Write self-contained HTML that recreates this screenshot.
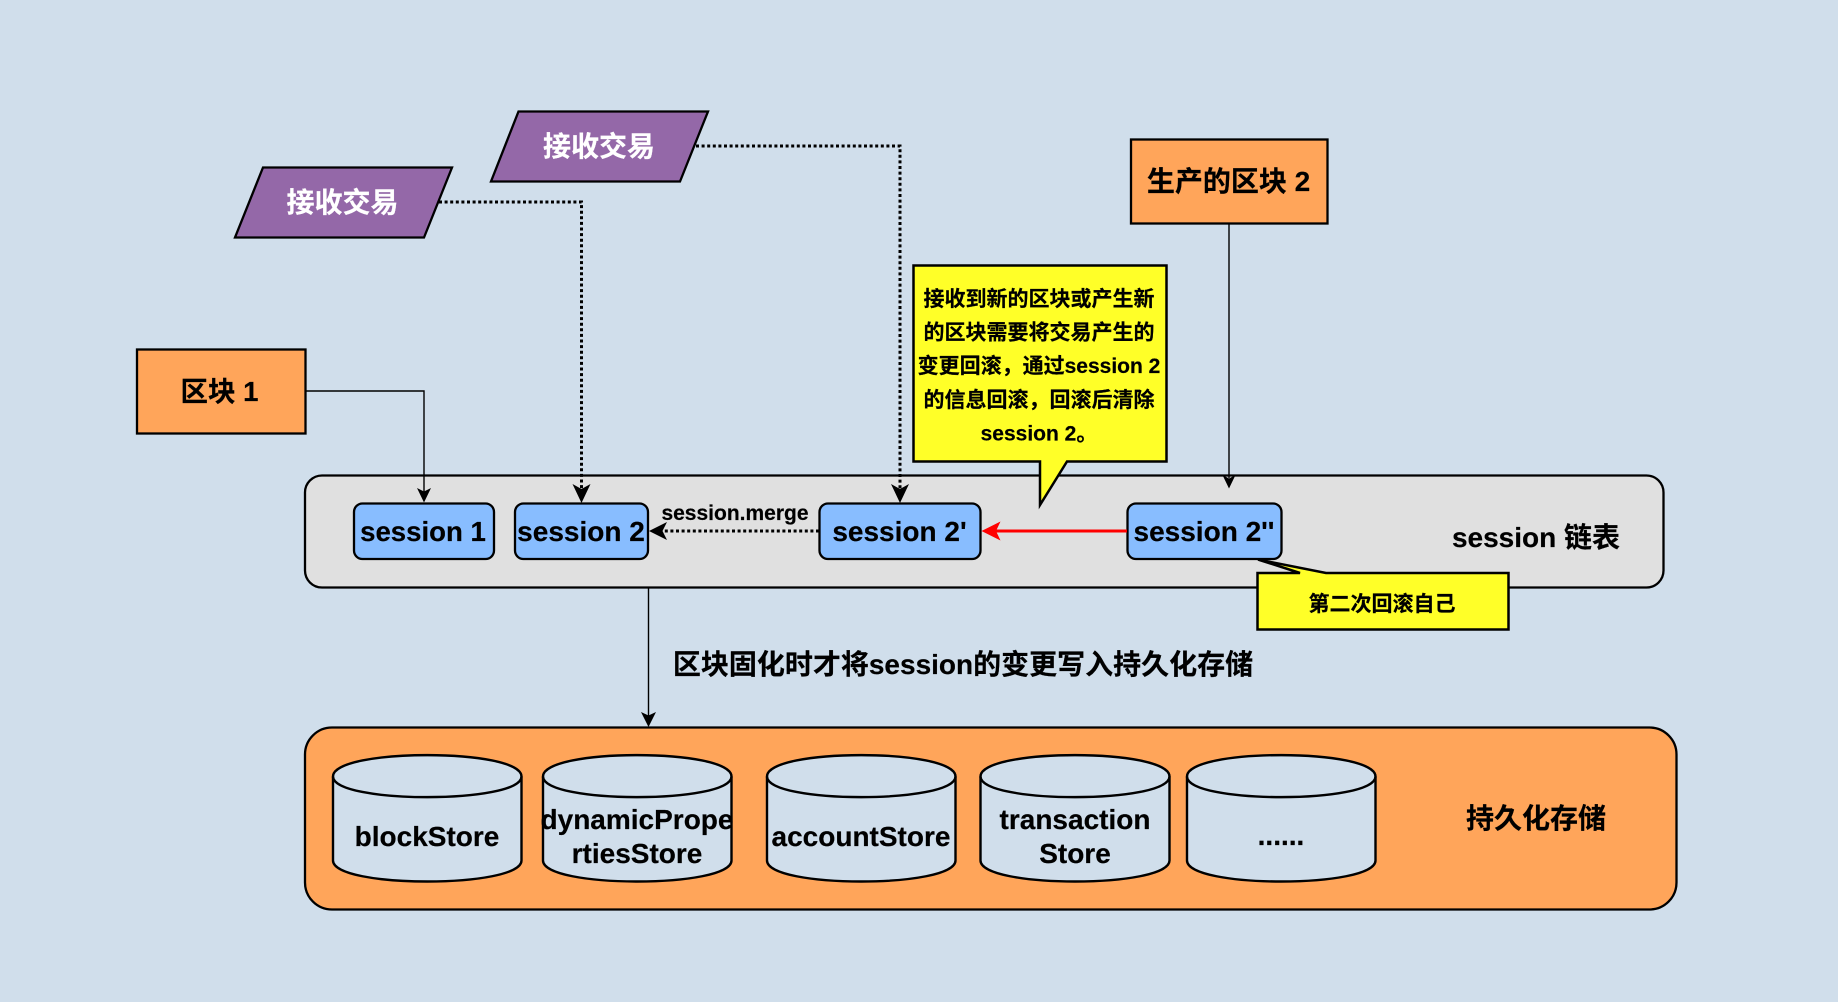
<!DOCTYPE html>
<html>
<head>
<meta charset="utf-8">
<style>
html,body{margin:0;padding:0;background:#d0deeb;width:1838px;height:1002px;overflow:hidden}
svg{display:block}
text{font-family:"Liberation Sans","Noto Sans CJK SC",sans-serif;font-weight:bold;text-anchor:middle;fill:#000;stroke:#000;stroke-width:.2px}
</style>
</head>
<body>
<svg width="1838" height="1002" viewBox="0 0 1838 1002" xmlns="http://www.w3.org/2000/svg">
<rect width="1838" height="1002" fill="#d0deeb"/>

<!-- containers -->
<rect x="305" y="475.5" width="1358.5" height="112" rx="17" fill="#e0e0e0" stroke="#000" stroke-width="2.3"/>
<rect x="305" y="727.5" width="1371.5" height="182" rx="27" fill="#ffa55a" stroke="#000" stroke-width="2.3"/>

<!-- sessions -->
<g fill="#88bdff" stroke="#000" stroke-width="2.3">
<rect x="354" y="503.5" width="140" height="55.5" rx="8.5"/>
<rect x="515" y="503.5" width="133" height="55.5" rx="8.5"/>
<rect x="819.5" y="503.5" width="161" height="55.5" rx="8.5"/>
<rect x="1127.5" y="503.5" width="154" height="55.5" rx="8.5"/>
</g>

<!-- top shapes -->
<rect x="137" y="349.5" width="168.5" height="84" fill="#ffa55a" stroke="#000" stroke-width="2.3"/>
<rect x="1131" y="139.5" width="196.5" height="84" fill="#ffa55a" stroke="#000" stroke-width="2.3"/>
<polygon points="263,167.5 452,167.5 424,237.5 235,237.5" fill="#9468a8" stroke="#000" stroke-width="2.3"/>
<polygon points="518.5,111.5 708,111.5 680,181.5 491,181.5" fill="#9468a8" stroke="#000" stroke-width="2.3"/>

<!-- connectors -->
<g fill="none" stroke="#000">
<path d="M305.5 391H424V492" stroke-width="1.4"/>
<path d="M1229 224V478" stroke-width="1.4"/>
<path d="M648.5 587.5V717" stroke-width="1.4"/>
<path d="M439 202H581.5V492" stroke-width="3" stroke-dasharray="3 2.6"/>
<path d="M696 146H900V492" stroke-width="3" stroke-dasharray="3 2.6"/>
<path d="M819 531H660" stroke-width="3" stroke-dasharray="3 2.6"/>
</g>
<path d="M1127 531H992" fill="none" stroke="#f00" stroke-width="3"/>

<!-- arrowheads -->
<g fill="#000">
<path d="M424 502.5l-7-14.5 7 3.5 7-3.5z"/>
<path d="M581.5 503l-9-19 9 5 9-5z"/>
<path d="M900 503l-9-19 9 5 9-5z"/>
<path d="M1229 488.5l-6.5-13.5 6.5 3.5 6.5-3.5z"/>
<path d="M648.5 727l-7.5-15 7.5 3.5 7.5-3.5z"/>
<path d="M649 531l18-9 -4.5 9 4.5 9z"/>
</g>
<path d="M981.5 531l19-9.5-4.5 9.5 4.5 9.5z" fill="#f00"/>

<!-- callouts -->
<path d="M913.5 265.5H1166.5V461.5H1067L1040 505V461.5H913.5Z" fill="#ffff28" stroke="#000" stroke-width="2.5"/>
<path d="M1257.5 573H1300L1258 559.5 1326 573H1508.5V629.5H1257.5Z" fill="#ffff28" stroke="#000" stroke-width="2.5"/>

<!-- cylinders -->
<g fill="#d0deeb" stroke="#000" stroke-width="2.4">
<path d="M333 776.5C333 748 521.5 748 521.5 776.5V860.5C521.5 888.5 333 888.5 333 860.5Z"/>
<path d="M333 776.5C333 804 521.5 804 521.5 776.5" fill="none"/>
<path d="M543 776.5C543 748 731.5 748 731.5 776.5V860.5C731.5 888.5 543 888.5 543 860.5Z"/>
<path d="M543 776.5C543 804 731.5 804 731.5 776.5" fill="none"/>
<path d="M767 776.5C767 748 955.5 748 955.5 776.5V860.5C955.5 888.5 767 888.5 767 860.5Z"/>
<path d="M767 776.5C767 804 955.5 804 955.5 776.5" fill="none"/>
<path d="M980.5 776.5C980.5 748 1169.5 748 1169.5 776.5V860.5C1169.5 888.5 980.5 888.5 980.5 860.5Z"/>
<path d="M980.5 776.5C980.5 804 1169.5 804 1169.5 776.5" fill="none"/>
<path d="M1187 776.5C1187 748 1375.5 748 1375.5 776.5V860.5C1375.5 888.5 1187 888.5 1187 860.5Z"/>
<path d="M1187 776.5C1187 804 1375.5 804 1375.5 776.5" fill="none"/>
</g>

<!-- labels -->
<g font-size="28">
<text x="219.5" y="401" font-size="27.5">区块 1</text>
<text x="1228.5" y="191">生产的区块 2</text>
<text x="342.5" y="212" style="fill:#fff;stroke:#fff">接收交易</text>
<text x="599" y="156" style="fill:#fff;stroke:#fff">接收交易</text>
<text x="423" y="541" font-size="27.6">session 1</text>
<text x="581" y="541">session 2</text>
<text x="899.5" y="541">session 2'</text>
<text x="1204" y="541">session 2''</text>
<text x="1536" y="547">session 链表</text>
<text x="963" y="674">区块固化时才将session的变更写入持久化存储</text>
<text x="427" y="846">blockStore</text>
<text x="637" y="829">dynamicPrope</text>
<text x="637" y="863">rtiesStore</text>
<text x="861" y="846">accountStore</text>
<text x="1075" y="829">transaction</text>
<text x="1075" y="863">Store</text>
<text x="1281" y="845">......</text>
<text x="1536" y="828">持久化存储</text>
</g>
<text x="735" y="520" font-size="21">session.merge</text>
<g font-size="21">
<text x="1039" y="306">接收到新的区块或产生新</text>
<text x="1039" y="339.5">的区块需要将交易产生的</text>
<text x="1039" y="373">变更回滚，通过session 2</text>
<text x="1039" y="407">的信息回滚，回滚后清除</text>
<text x="1039" y="440.5">session 2。</text>
<text x="1382" y="611">第二次回滚自己</text>
</g>
</svg>
</body>
</html>
